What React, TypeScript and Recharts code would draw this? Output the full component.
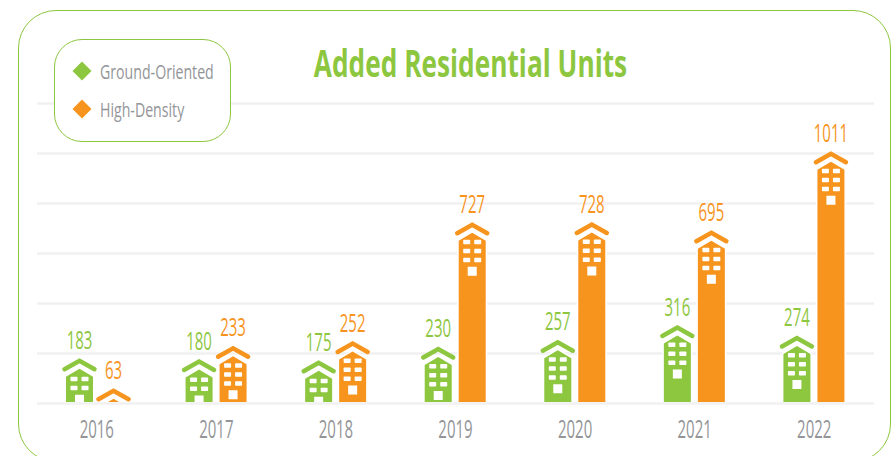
import { Bar, BarChart, CartesianGrid, LabelList, Legend, XAxis, YAxis } from 'recharts';

const years = ['2016', '2017', '2018', '2019', '2020', '2021', '2022'];
const groundOriented = [183, 180, 175, 230, 257, 316, 274];
const highDensity = [63, 233, 252, 727, 728, 695, 1011];
const gridTicks = [0, 200, 400, 600, 800, 1000, 1200];

const GREEN = '#8dc63f';
const ORANGE = '#f7941d';
const GREY = '#939598';
const FONT = '"Open Sans", sans-serif';

const chartData = years.map((year, i) => ({
  year,
  ground: groundOriented[i],
  high: highDensity[i],
}));

// the original font is much narrower than anything installed, so squeeze it
function Narrow({ x, y, size, fill, weight = 400, squeeze = 0.6, children }: any) {
  return (
    <text
      transform={`translate(${x} ${y}) scale(${squeeze} 1)`}
      textAnchor="middle"
      fontFamily={FONT}
      fontSize={size}
      fontWeight={weight}
      fill={fill}
    >
      {children}
    </text>
  );
}

function Building({ x, y, width, height, fill }: any) {
  const pad = 6;
  const mid = width / 2;
  const h = height - 1.5;
  const tall = height > 50;
  const rows = tall ? [18, 27, 36] : [19, 28];
  const doorY = tall ? 45 : 37;
  const doorH = tall ? 9 : h - doorY;
  const body = `M0 19 L${mid} 11 L${width} 19 V${h + 2} H0 Z`;
  return (
    <svg x={x - pad} y={y} width={width + pad * 2} height={h} overflow="hidden">
      <g transform={`translate(${pad} 0)`}>
        <path d={body} fill={fill} stroke="#fff" strokeWidth={3} paintOrder="stroke" />
        <path
          d={`M-1.5 11.5 L${mid} 3 L${width + 1.5} 11.5`}
          fill="none"
          stroke={fill}
          strokeWidth={4.5}
          strokeLinecap="round"
        />
        {rows.map((r) => (
          <g key={r}>
            <rect x={4.5} y={r} width={7} height={4.5} rx={0.8} fill="#fff" />
            <rect x={15.5} y={r} width={7} height={4.5} rx={0.8} fill="#fff" />
          </g>
        ))}
        {doorH > 0 && <rect x={mid - 4.5} y={doorY} width={9} height={doorH} fill="#fff" />}
      </g>
    </svg>
  );
}

const valueLabel = (fill: string) => (props: any) => (
  <Narrow x={props.x + props.width / 2} y={props.y - 9} size={25} fill={fill}>
    {props.value}
  </Narrow>
);

function YearTick({ x, y, payload }: any) {
  return (
    <Narrow x={x} y={y + 26} size={25} fill={GREY}>
      {payload.value}
    </Narrow>
  );
}

function Diamond({ color }: { color: string }) {
  return (
    <svg width={20} height={20} style={{ marginRight: 8, flex: 'none' }}>
      <path d="M10 0.5 L19.5 10 L10 19.5 L0.5 10 Z" fill={color} />
    </svg>
  );
}

function LegendBox() {
  const items = [
    { name: 'Ground-Oriented', color: GREEN },
    { name: 'High-Density', color: ORANGE },
  ];
  return (
    <div
      style={{
        boxSizing: 'border-box',
        width: 177,
        height: 103,
        border: `1.5px solid ${GREEN}`,
        borderRadius: 28,
        background: '#fff',
        padding: '20.5px 0 0 17px',
      }}
    >
      {items.map((item) => (
        <div key={item.name} style={{ display: 'flex', alignItems: 'center', height: 20, marginBottom: 18 }}>
          <Diamond color={item.color} />
          <span
            style={{
              fontFamily: FONT,
              fontSize: 20.5,
              color: GREY,
              display: 'inline-block',
              transform: 'translateY(-0.5px) scaleX(0.69)',
              transformOrigin: 'left center',
              whiteSpace: 'nowrap',
            }}
          >
            {item.name}
          </span>
        </div>
      ))}
    </div>
  );
}

export default function App() {
  return (
    <div style={{ position: 'absolute', left: 0, top: 0, width: 895, height: 456, overflow: 'hidden', background: '#fff' }}>
      <div
        style={{
          position: 'absolute',
          left: 18,
          top: 10,
          width: 873,
          height: 452,
          boxSizing: 'border-box',
          border: `1.5px solid ${GREEN}`,
          borderRadius: 38,
        }}
      />
      <div style={{ position: 'absolute', left: 0, top: 0 }}>
        <BarChart
          width={895}
          height={456}
          data={chartData}
          margin={{ top: 103.5, right: 21, bottom: 22.5, left: 37 }}
          barSize={27}
          barGap={7}
        >
          <CartesianGrid vertical={false} stroke="#f1f1f2" strokeWidth={2.5} />
          <XAxis dataKey="year" axisLine={false} tickLine={false} height={30} tick={<YearTick />} interval={0} />
          <YAxis hide width={0} domain={[0, 1200]} ticks={gridTicks} />
          <Legend
            layout="vertical"
            align="center"
            verticalAlign="middle"
            wrapperStyle={{ left: 54, top: 39, width: 177, height: 103 }}
            content={<LegendBox />}
          />
          <Bar dataKey="ground" name="Ground-Oriented" fill={GREEN} shape={<Building />} isAnimationActive={false}>
            <LabelList dataKey="ground" content={valueLabel(GREEN)} />
          </Bar>
          <Bar dataKey="high" name="High-Density" fill={ORANGE} shape={<Building />} isAnimationActive={false}>
            <LabelList dataKey="high" content={valueLabel(ORANGE)} />
          </Bar>
          <Narrow x={470.5} y={77} size={37} weight={700} squeeze={0.71} fill={GREEN}>
            Added Residential Units
          </Narrow>
        </BarChart>
      </div>
    </div>
  );
}
